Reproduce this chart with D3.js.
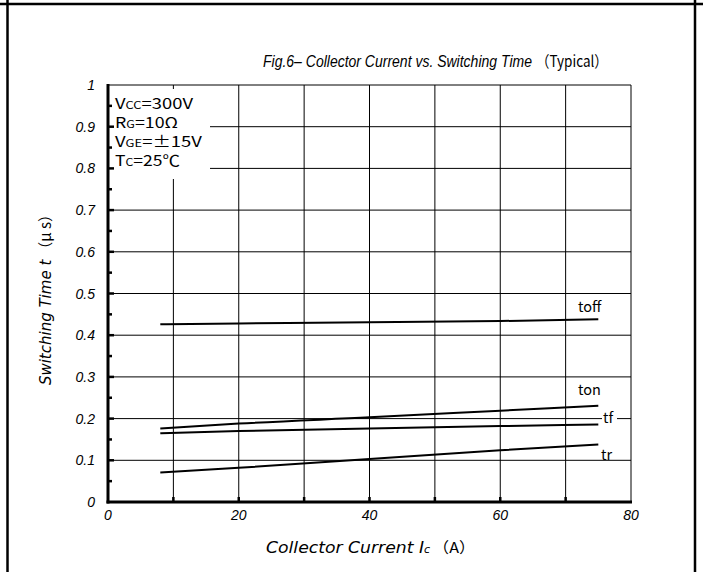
<!DOCTYPE html>
<html lang="en">
<head>
<meta charset="UTF-8">
<title>Fig.6 Collector Current vs. Switching Time</title>
<script src="https://d3js.org/d3.v7.min.js"></script>
<style>
    body { margin: 0; background: #fff; }
    svg { display: block; }
    .ital { font-family: "Liberation Sans", Arial, sans-serif; font-style: italic; fill: #000; }
    .obl { font-family: "DejaVu Sans", sans-serif; font-style: oblique; fill: #000; }
    .goth { font-family: "Noto Sans CJK JP", "Liberation Sans", sans-serif; fill: #000; }
</style>
</head>
<body>
<svg width="703" height="572"></svg>
<script>
    // collector current points (A)
    const icValues = [8, 20, 40, 60, 75];
    // switching times (us)
    const toffValues = [0.426, 0.428, 0.431, 0.434, 0.438];
    const tonValues  = [0.176, 0.188, 0.203, 0.219, 0.231];
    const tfValues   = [0.165, 0.170, 0.176, 0.182, 0.186];
    const trValues   = [0.071, 0.082, 0.103, 0.124, 0.138];

    const xTicks = [0, 20, 40, 60, 80];
    const yTicks = [0, 0.1, 0.2, 0.3, 0.4, 0.5, 0.6, 0.7, 0.8, 0.9, 1];
    const yTickLabels = ["0", "0.1", "0.2", "0.3", "0.4", "0.5", "0.6", "0.7", "0.8", "0.9", "1"];

    const svg = d3.select("svg");

    const x = d3.scaleLinear().domain([0, 80]).range([108, 631]);
    const y = d3.scaleLinear().domain([0, 1]).range([502, 85]);

    // outer frame
    svg.append("line").attr("x1", 0).attr("x2", 703).attr("y1", 4).attr("y2", 4)
        .attr("stroke", "#000").attr("stroke-width", 2.5);
    svg.append("line").attr("x1", 7.5).attr("x2", 7.5).attr("y1", 0).attr("y2", 572)
        .attr("stroke", "#000").attr("stroke-width", 2.5);
    svg.append("line").attr("x1", 695).attr("x2", 695).attr("y1", 0).attr("y2", 572)
        .attr("stroke", "#000").attr("stroke-width", 2.5);

    // grid
    const grid = svg.append("g").attr("stroke", "#000").attr("stroke-width", 1);
    grid.selectAll(".vg").data(d3.range(10, 81, 10)).enter().append("line")
        .attr("x1", d => x(d)).attr("x2", d => x(d))
        .attr("y1", y(0)).attr("y2", y(1));
    grid.selectAll(".hg").data(d3.range(1, 11).map(d => d / 10)).enter().append("line")
        .attr("x1", x(0)).attr("x2", x(80))
        .attr("y1", d => y(d)).attr("y2", d => y(d));

    // white box under the conditions text
    svg.append("rect").attr("x", x(0) + 1).attr("y", y(1) + 4)
        .attr("width", 101).attr("height", 90).attr("fill", "#fff");

    // curves
    const series = [toffValues, tonValues, tfValues, trValues];
    const line = d3.line()
        .x((d, i) => x(icValues[i]))
        .y(d => y(d))
        .curve(d3.curveMonotoneX);
    svg.append("g").selectAll("path").data(series).enter().append("path")
        .attr("d", d => line(d))
        .attr("fill", "none").attr("stroke", "#000").attr("stroke-width", 2);

    // axes (thick left and bottom)
    svg.append("line").attr("x1", x(0)).attr("x2", x(0)).attr("y1", y(1) - 1).attr("y2", y(0) + 1.5)
        .attr("stroke", "#000").attr("stroke-width", 3);
    svg.append("line").attr("x1", x(0) - 1.5).attr("x2", x(80) + 1).attr("y1", y(0)).attr("y2", y(0))
        .attr("stroke", "#000").attr("stroke-width", 3);

    // y ticks inward, minor every 0.05
    svg.append("g").selectAll("line").data(d3.range(1, 20).map(d => d / 20)).enter().append("line")
        .attr("x1", x(0)).attr("x2", (d, i) => x(0) + (i % 2 ? 6 : 4))
        .attr("y1", d => y(d)).attr("y2", d => y(d))
        .attr("stroke", "#000").attr("stroke-width", 2.5);
    // x ticks inward
    svg.append("g").selectAll("line").data(d3.range(10, 80, 10)).enter().append("line")
        .attr("x1", d => x(d)).attr("x2", d => x(d))
        .attr("y1", y(0)).attr("y2", y(0) - 5)
        .attr("stroke", "#000").attr("stroke-width", 2.5);

    // tick labels
    svg.append("g").selectAll("text").data(yTicks).enter().append("text")
        .attr("class", "ital").attr("font-size", 14)
        .attr("x", 95).attr("y", d => y(d) + 5)
        .attr("text-anchor", "end")
        .text((d, i) => yTickLabels[i]);
    svg.append("g").selectAll("text").data(xTicks).enter().append("text")
        .attr("class", "ital").attr("font-size", 14)
        .attr("x", d => x(d)).attr("y", 520)
        .attr("text-anchor", "middle")
        .text(d => d);

    // conditions
    const cond = [
        ["V", "CC", "=300V", 78],
        ["R", "G", "=10Ω", 63],
        ["V", "GE", "=±15V", 87],
        ["T", "C", "=25℃", 65]
    ];
    const condBase = [109, 128, 147, 166];
    const condG = svg.append("g").attr("class", "goth").attr("font-size", 15);
    cond.forEach(function (c, i) {
        const t = condG.append("text").attr("x", 115).attr("y", condBase[i])
            .attr("textLength", c[3]).attr("lengthAdjust", "spacingAndGlyphs");
        t.append("tspan").text(c[0]);
        t.append("tspan").attr("font-size", 10.5).text(c[1]);
        t.append("tspan").text(c[2]);
    });

    // curve labels
    const lab = svg.append("g").attr("class", "goth").attr("font-size", 14.5);
    lab.append("text").attr("x", 578).attr("y", 312).text("toff");
    lab.append("text").attr("x", 578).attr("y", 395).text("ton");
    lab.append("rect").attr("x", 602).attr("y", 409).attr("width", 15).attr("height", 14).attr("fill", "#fff");
    lab.append("text").attr("x", 603).attr("y", 423).text("tf");
    lab.append("rect").attr("x", 600).attr("y", 447).attr("width", 16).attr("height", 12).attr("fill", "#fff");
    lab.append("text").attr("x", 601).attr("y", 460).text("tr");

    // title (two pieces: italic part and the upright note)
    svg.append("g").attr("transform", "translate(263,67) scale(1,1.15)")
        .append("text").attr("class", "ital").attr("font-size", 14)
        .text("Fig.6– Collector Current vs. Switching Time");
    svg.append("g").attr("transform", "translate(536,67) scale(1,1.15)")
        .append("text").attr("class", "goth").attr("font-size", 13.5)
        .text("（Typical）");

    // x axis label
    const xl = svg.append("text").attr("y", 553).attr("font-size", 15);
    xl.append("tspan").attr("class", "obl").attr("x", 266)
        .attr("textLength", 158).attr("lengthAdjust", "spacingAndGlyphs")
        .text("Collector Current I");
    xl.append("tspan").attr("class", "obl").attr("font-size", 11).text("c");
    xl.append("tspan").attr("class", "goth").attr("dx", 3)
        .attr("textLength", 42).attr("lengthAdjust", "spacingAndGlyphs").text("（A）");

    // y axis label
    const yl = svg.append("text").attr("transform", "translate(51,296) rotate(-90)")
        .attr("font-size", 15).attr("text-anchor", "middle");
    yl.append("tspan").attr("class", "obl").text("Switching Time t");
    yl.append("tspan").attr("class", "goth").attr("dx", 3).text("（μ s）");
</script>
</body>
</html>
